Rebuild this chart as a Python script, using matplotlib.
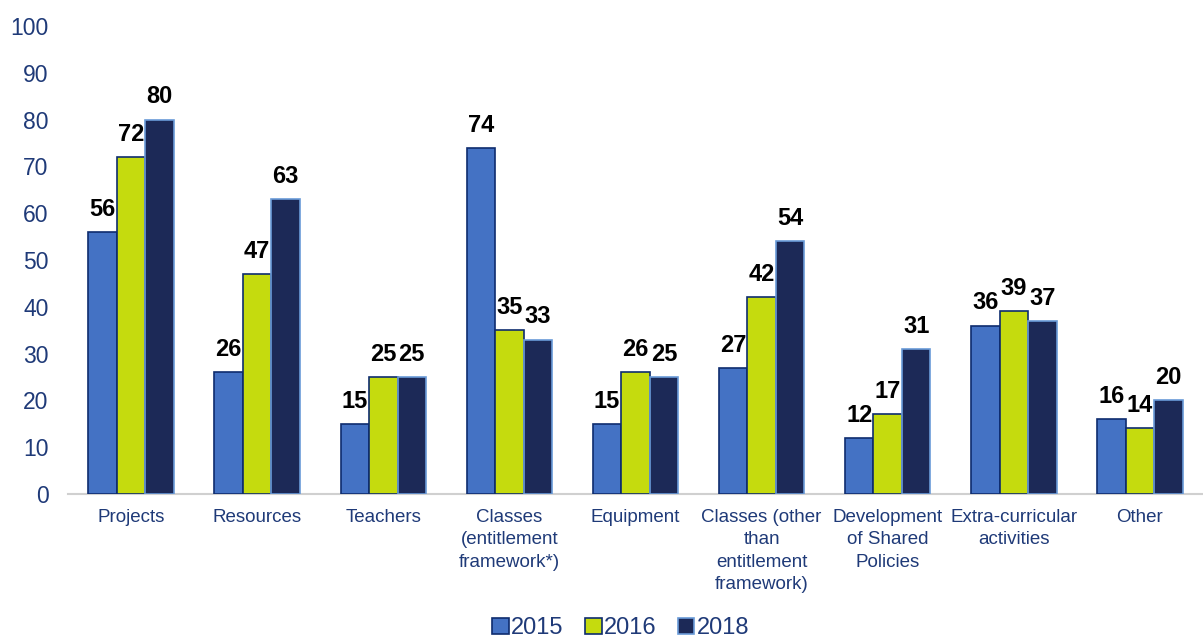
import matplotlib
matplotlib.use("Agg")
import matplotlib.pyplot as plt
import numpy as np

plt.rcParams['font.family'] = ['Liberation Sans', 'DejaVu Sans']

categories = [
    "Projects",
    "Resources",
    "Teachers",
    "Classes\n(entitlement\nframework*)",
    "Equipment",
    "Classes (other\nthan\nentitlement\nframework)",
    "Development\nof Shared\nPolicies",
    "Extra-curricular\nactivities",
    "Other",
]
years = ["2015", "2016", "2018"]
values_2015 = [56, 26, 15, 74, 15, 27, 12, 36, 16]
values_2016 = [72, 47, 25, 35, 26, 42, 17, 39, 14]
values_2018 = [80, 63, 25, 33, 25, 54, 31, 37, 20]
y_ticks = list(range(0, 101, 10))

series = [values_2015, values_2016, values_2018]
face_colors = ["#4472C4", "#C5DB0E", "#1C2957"]
edge_colors = ["#0E2C6E", "#0E2C6E", "#6A9BD8"]
text_blue = "#1F3A78"

fig = plt.figure(figsize=(12.03, 6.39), dpi=100)
ax = fig.add_axes([0.0565, 0.2269, 0.9435, 0.7324])

x = np.arange(len(categories))
bw = 0.226
for i, (vals, fc, ec, yr) in enumerate(zip(series, face_colors, edge_colors, years)):
    pos = x + (i - 1) * bw
    bars = ax.bar(pos, vals, width=bw, color=fc, edgecolor=ec, linewidth=1.2,
                  label=yr, zorder=3)
    for b, v in zip(bars, vals):
        ax.annotate(str(v), (b.get_x() + b.get_width() / 2, v),
                    xytext=(0, 8), textcoords="offset points",
                    ha="center", va="bottom", fontsize=17,
                    fontweight="bold", color="black")

ax.set_xlim(-0.5, len(categories) - 0.5)
ax.set_ylim(0, 100)
ax.set_yticks(y_ticks)
ax.set_xticks(x)
ax.set_xticklabels(categories, fontsize=13.5, color=text_blue, linespacing=1.4)
ax.tick_params(axis="y", length=0, pad=14, labelsize=16.5, labelcolor=text_blue)
ax.tick_params(axis="x", length=0, pad=11)
for side in ["left", "right", "top"]:
    ax.spines[side].set_visible(False)
ax.spines["bottom"].set_color("#D0D0D0")
ax.spines["bottom"].set_linewidth(1.5)

leg = fig.legend(loc="center", bbox_to_anchor=(0.516, 0.017), ncol=3, frameon=False,
                 fontsize=17, handlelength=0.7, handleheight=0.7,
                 handletextpad=0.1, columnspacing=0.9)
for t in leg.get_texts():
    t.set_color(text_blue)

fig.savefig("out.png", dpi=100)
